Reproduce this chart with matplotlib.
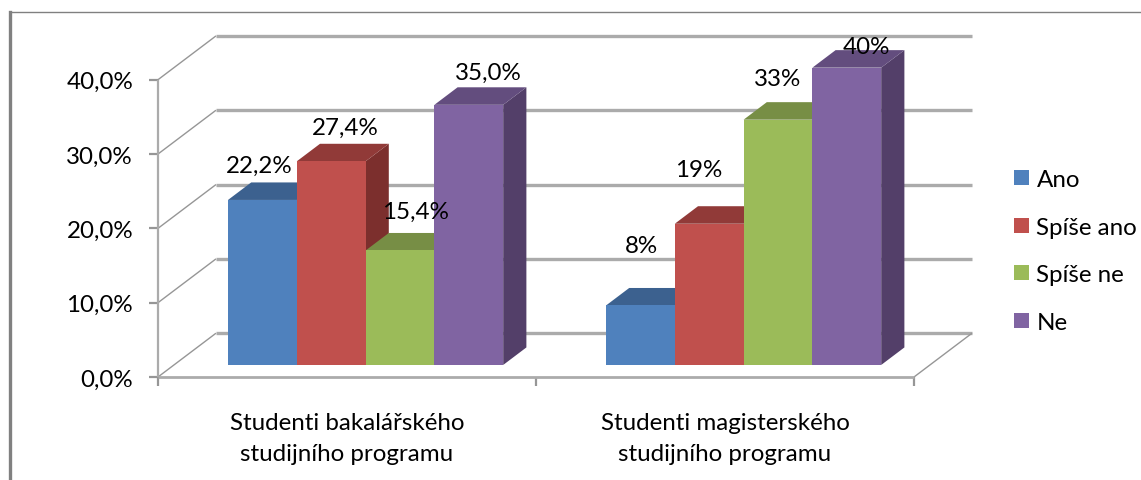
import matplotlib
matplotlib.use('Agg')
import matplotlib.pyplot as plt
from matplotlib.lines import Line2D
from matplotlib.patches import Patch, Rectangle
from matplotlib.transforms import Affine2D

plt.rcParams['font.family'] = ['Lato', 'DejaVu Sans']

W, H = 1141, 481

# ---- data ----
groups = ['Studenti bakalářského\nstudijního programu',
          'Studenti magisterského\nstudijního programu']
series = ['Ano', 'Spíše ano', 'Spíše ne', 'Ne']
ano = [22.2, 8]
spise_ano = [27.4, 19]
spise_ne = [15.4, 33]
ne = [35.0, 40]
bachelor_labels = ['22,2%', '27,4%', '15,4%', '35,0%']
master_labels = ['8%', '19%', '33%', '40%']
y_ticks = [0, 10, 20, 30, 40]
y_tick_labels = ['0,0%', '10,0%', '20,0%', '30,0%', '40,0%']

# ---- styles ----
front = ['#4F81BD', '#C0504D', '#9BBB59', '#8064A2']
top = ['#3C618F', '#913A38', '#778E45', '#634D7E']
side = ['#2F4D72', '#7C2F2D', '#5F7237', '#533F69']
GRID = '#ABABAB'
AXIS = '#969696'
FS = 17.4

# label offsets from the bar top centre, in pixels (x right, y up)
label_off = [[(-3, 35), (14, 34), (15, 39), (20, 32)],
             [(1, 60), (-11, 54), (0, 41), (20, 21)]]

fig = plt.figure(figsize=(W / 100, H / 100), dpi=100)
fig.patch.set_facecolor('white')

# axes = front plane of the 3D box
x0, x1, y0, y1 = 158, 914, 378, 80.7
ax = fig.add_axes([x0 / W, 1 - y0 / H, (x1 - x0) / W, (y0 - y1) / H])
ax.set_xlim(0, 2)
ax.set_ylim(0, 40)
ax.axis('off')

# depth of the box in data units
DX = 58 / ((x1 - x0) / 2)
DY = 43.8 / ((y0 - y1) / 40)
BAR_W = 0.182
D_FRONT, D_BACK = 0.275, 0.675
BAR_NUDGE = 0.007


def shift(x, y, d):
    return x + d * DX, y + d * DY


def line(xs, ys, color=GRID, lw=1.0, z=1):
    ax.add_line(Line2D(xs, ys, color=color, lw=lw, zorder=z, clip_on=False,
                       solid_capstyle='butt'))


# walls and floor
for t in y_ticks:
    bx, by = shift(0, t, 1)
    line([0, bx], [t, by], color=AXIS, lw=1.0)
    line([bx, 2 + DX], [by, by], color=GRID, lw=2.4)
    line([-9 / 378, 0], [t, t], color=AXIS, lw=1.6)
rx, ry = shift(2, 0, 1)
line([2, rx], [0, ry], color=AXIS, lw=1.0)
line([0, 0], [0, 40], color=GRID, lw=1.6)
line([0, 2], [0, 0], color=GRID, lw=2.0, z=2)
for tx in [0, 1, 2]:
    line([tx, tx], [0, -1.15], color=AXIS, lw=1.6)

# bars, drawn left to right so that each one covers the side of the previous
values = [ano, spise_ano, spise_ne, ne]
z = 3
for g in range(len(groups)):
    left = g + 0.5 - 2 * BAR_W + BAR_NUDGE
    for s in range(len(series)):
        v = values[s][g]
        xl = left + s * BAR_W
        xr = xl + BAR_W
        a, a0 = shift(xl, v, D_FRONT), shift(xl, 0, D_FRONT)
        b, b0 = shift(xr, v, D_FRONT), shift(xr, 0, D_FRONT)
        c, c0 = shift(xr, v, D_BACK), shift(xr, 0, D_BACK)
        d = shift(xl, v, D_BACK)
        ax.fill(*zip(b, c, c0, b0), color=side[s], lw=0, zorder=z, clip_on=False)
        ax.fill(*zip(a, b, c, d), color=top[s], lw=0, zorder=z, clip_on=False)
        ax.bar(a0[0], v, bottom=a0[1], width=BAR_W, align='edge',
               color=front[s], lw=0, zorder=z, clip_on=False)
        z += 1

# value labels; the plot area cuts off anything above the top wall line
area = Rectangle((0, 38), W, H - 38,
                 transform=Affine2D().scale(1, -1).translate(0, H))
for g, labels in enumerate([bachelor_labels, master_labels]):
    left = g + 0.5 - 2 * BAR_W + BAR_NUDGE
    for s, txt in enumerate(labels):
        v = values[s][g]
        px, py = shift(left + (s + 0.5) * BAR_W, v, D_FRONT)
        an = ax.annotate(txt, (px, py), xytext=label_off[g][s],
                         textcoords='offset pixels', ha='center', va='center',
                         fontsize=FS, color='black', zorder=20,
                         annotation_clip=False)
        an.set_clip_path(area)
        an.set_clip_on(True)

# axis labels
for t, lab in zip(y_ticks, y_tick_labels):
    ax.annotate(lab, (0, t), xytext=(-25, -2), textcoords='offset pixels',
                ha='right', va='center', fontsize=FS, color='black')
for g, name in enumerate(groups):
    ax.annotate(name, (g + 0.5, 0), xytext=(0, -61), textcoords='offset pixels',
                ha='center', va='center', fontsize=FS, linespacing=1.55,
                color='black', annotation_clip=False)

# legend
handles = [Patch(facecolor=c, edgecolor='none') for c in front]
fig.legend(handles, series, loc='center left',
           bbox_to_anchor=(1014 / W, 1 - 252 / H), frameon=False, fontsize=FS,
           handlelength=0.63, handleheight=0.6, handletextpad=0.3,
           labelspacing=1.1, borderpad=0, borderaxespad=0)

# outer frame: only the left and top edges are visible
fig.add_artist(Line2D([10 / W, 10 / W], [0, 1 - 12.5 / H], color='#808080', lw=2.4))
fig.add_artist(Line2D([10 / W, 1], [1 - 12.5 / H, 1 - 12.5 / H], color='#808080', lw=1.0))

fig.savefig('out.png', dpi=100)
